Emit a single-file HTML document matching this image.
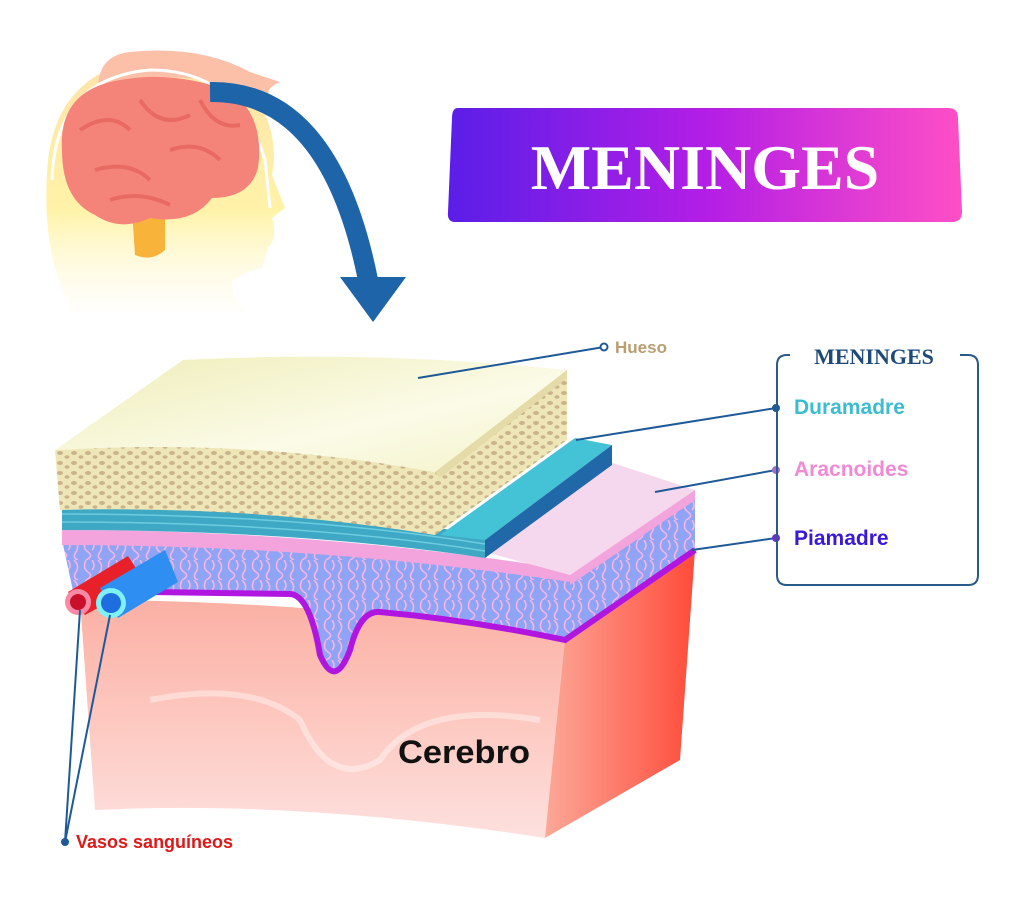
<!DOCTYPE html>
<html><head><meta charset="utf-8"><style>
html,body{margin:0;padding:0;background:#fff}
svg{display:block}
</style></head><body>
<svg width="1024" height="901" viewBox="0 0 1024 901" xmlns="http://www.w3.org/2000/svg">
<defs>
<linearGradient id="ban" x1="0" x2="1" y1="0" y2="0"><stop offset="0" stop-color="#5a1ee8"/><stop offset="0.5" stop-color="#b31ee6"/><stop offset="1" stop-color="#ff4fc6"/></linearGradient>
<linearGradient id="head" x1="0" x2="0" y1="0" y2="1"><stop offset="0" stop-color="#fde3a8"/><stop offset="0.6" stop-color="#fff3a8"/><stop offset="1" stop-color="#fffbe8" stop-opacity="0.2"/></linearGradient>
<linearGradient id="boneTop" x1="0" x2="1" y1="0" y2="1"><stop offset="0" stop-color="#efedb8"/><stop offset="0.6" stop-color="#fbfbe8"/><stop offset="1" stop-color="#f4f2c8"/></linearGradient>
<linearGradient id="brainF" x1="0" x2="0" y1="0" y2="1"><stop offset="0" stop-color="#fbb0a4"/><stop offset="0.5" stop-color="#fdc8c0"/><stop offset="1" stop-color="#fde0de"/></linearGradient>
<linearGradient id="brainS" x1="0" x2="1" y1="0" y2="0"><stop offset="0" stop-color="#fca898"/><stop offset="1" stop-color="#ff4b3a"/></linearGradient>
<pattern id="spng" width="14" height="10" patternUnits="userSpaceOnUse"><rect width="14" height="10" fill="#efe6b8"/><ellipse cx="4" cy="3" rx="3" ry="2" fill="#c9b48c"/><ellipse cx="11" cy="7" rx="2.5" ry="1.8" fill="#c9b48c"/></pattern>
<pattern id="web" width="24" height="20" patternUnits="userSpaceOnUse"><rect width="24" height="20" fill="#8fa4f4"/><path d="M2 0 Q8 6 4 12 T6 20 M14 0 Q10 8 16 12 T14 20 M20 0 Q24 6 20 10" stroke="#f6b4e6" stroke-width="1.6" fill="none"/></pattern>
</defs>

<!-- head -->
<path d="M70 305 Q40 250 48 160 Q58 75 140 60 Q215 50 255 95 Q280 135 272 175 L285 208 L272 218 Q278 238 268 248 L262 268 Q242 272 232 282 Q232 300 247 312 L70 312 Z" fill="url(#head)"/>
<path d="M98 85 Q100 55 130 52 Q200 45 250 72 L280 82 Q262 90 272 98 L250 100 Q210 70 140 80 Z" fill="#fcc0a8"/>
<path d="M52 180 Q55 78 150 70 Q238 70 265 160 L270 208" stroke="#fff" stroke-width="3" fill="none"/>
<path d="M132 210 L165 205 L165 250 Q152 262 135 255 Z" fill="#f8b43a"/>
<path d="M62 150 Q58 90 120 80 Q175 70 232 92 Q265 118 258 168 Q250 198 212 198 Q192 225 150 218 Q120 232 95 215 Q62 200 62 150 Z" fill="#f4847a"/>
<path d="M80 130 Q110 110 130 130 M140 100 Q160 130 190 115 M95 170 Q130 160 150 180 M170 150 Q200 140 220 160 M200 100 Q215 130 240 125 M110 200 Q140 190 170 205" stroke="#e86a62" stroke-width="4" fill="none"/>
<!-- arrow -->
<path d="M210 92 Q330 90 368 280" stroke="#1e64a8" stroke-width="20" fill="none"/>
<path d="M340 277 L406 277 L373 322 Z" fill="#1e64a8"/>

<!-- banner -->
<path d="M458 108 L948 108 Q958 108 958 118 L962 212 Q962 222 952 222 L455 222 Q447 222 448 212 L452 118 Q452 108 458 108 Z" fill="url(#ban)"/>
<text x="705" y="189" text-anchor="middle" font-family="Liberation Serif, serif" font-weight="bold" font-size="64" fill="#fff">MENINGES</text>

<!-- brain block -->
<path d="M80 600 Q330 600 568 640 L545 838 Q300 800 95 810 Z" fill="url(#brainF)"/>
<path d="M150 700 Q250 680 300 720 Q330 790 380 760 Q420 700 540 720" stroke="#fff" stroke-opacity="0.4" stroke-width="6" fill="none"/>
<path d="M565 640 L695 550 L680 760 L545 838 Z" fill="url(#brainS)"/>
<!-- subarachnoid -->
<path d="M62 540 Q320 540 570 580 L695 495 L695 550 L565 640 Q470 620 380 612 Q360 610 350 650 Q335 690 320 655 Q310 595 290 594 L150 592 Q100 600 75 600 Z" fill="url(#web)"/>
<path d="M150 592 L290 594 Q310 595 320 655 Q335 690 350 650 Q360 610 380 612 Q470 620 565 640 L695 550" stroke="#b016e0" stroke-width="6" fill="none"/>
<!-- arachnoid -->
<path d="M62 530 Q320 530 570 570 L570 582 Q320 545 62 545 Z" fill="#f4a4dc"/>
<path d="M485 552 L610 462 L695 490 L570 575 Z" fill="#f6d8ee"/>
<path d="M570 575 L695 490 L695 500 L570 585 Z" fill="#f4a4dc"/>
<!-- dura -->
<path d="M62 505 Q300 505 485 535 L485 558 Q300 530 62 530 Z" fill="#3fa8c4"/>
<path d="M62 514 Q300 514 485 544 M62 522 Q300 522 485 551" stroke="#6ccde0" stroke-width="1.5" fill="none"/>
<path d="M440 535 L575 438 L612 445 L485 540 Z" fill="#44c3d6"/>
<path d="M485 540 L612 445 L612 465 L485 558 Z" fill="#2168a8"/>
<!-- bone -->
<path d="M55 450 Q250 438 435 472 L435 535 Q250 505 60 510 Z" fill="url(#spng)"/>
<path d="M435 472 L567 370 L567 440 L435 535 Z" fill="url(#spng)"/>
<path d="M435 472 L567 370 L567 378 L440 478 Z" fill="#e4dba8"/>
<path d="M55 450 L183 360 Q380 350 567 370 L435 472 Q250 438 55 450 Z" fill="url(#boneTop)"/>
<!-- vessels -->
<path d="M68 592 L128 556 L145 582 L85 615 Z" fill="#e8202a"/>
<circle cx="78" cy="602" r="13" fill="#f88aa8"/><circle cx="78" cy="602" r="8" fill="#c8102a"/>
<path d="M100 588 L165 550 L178 582 L118 618 Z" fill="#2f8ef2"/>
<circle cx="111" cy="603" r="15" fill="#7ef2f6"/><circle cx="111" cy="603" r="10" fill="#1e6ee0"/>

<!-- leader lines -->
<g stroke="#1e5a98" stroke-width="2" fill="none">
<path d="M418 378 L604 347"/>
<path d="M576 440 L776 408"/>
<path d="M655 492 L776 470"/>
<path d="M692 550 L776 538"/>
<path d="M80 610 L65 842 M110 615 L65 842"/>
</g>
<circle cx="604" cy="347" r="3.5" fill="#fff" stroke="#1e5a98" stroke-width="2"/>
<circle cx="776" cy="408" r="4" fill="#1e5a98"/>
<circle cx="776" cy="470" r="4" fill="#a070c8"/>
<circle cx="776" cy="538" r="4" fill="#7030d0"/>
<circle cx="65" cy="842" r="4" fill="#1e5a98"/>

<!-- right box -->
<path d="M790 355 L787 355 Q777 355 777 365 L777 575 Q777 585 787 585 L968 585 Q978 585 978 575 L978 365 Q978 355 968 355 L960 355" stroke="#2a5a8a" stroke-width="2" fill="none"/>
<text x="874" y="364" text-anchor="middle" font-family="Liberation Serif, serif" font-weight="bold" font-size="22" fill="#1e4a7a">MENINGES</text>

<g font-family="Liberation Sans, sans-serif" font-weight="bold">
<text x="615" y="353" font-size="17" fill="#b89e70">Hueso</text>
<text x="794" y="414" font-size="21" fill="#3cbcd0">Duramadre</text>
<text x="794" y="476" font-size="21" fill="#f08ad4">Aracnoides</text>
<text x="794" y="545" font-size="21" fill="#3a18d8">Piamadre</text>
<text x="398" y="763" font-size="32" fill="#111" textLength="132" lengthAdjust="spacingAndGlyphs">Cerebro</text>
<text x="76" y="848" font-size="18" fill="#e01818">Vasos sanguíneos</text>
</g>
</svg>
</body></html>
